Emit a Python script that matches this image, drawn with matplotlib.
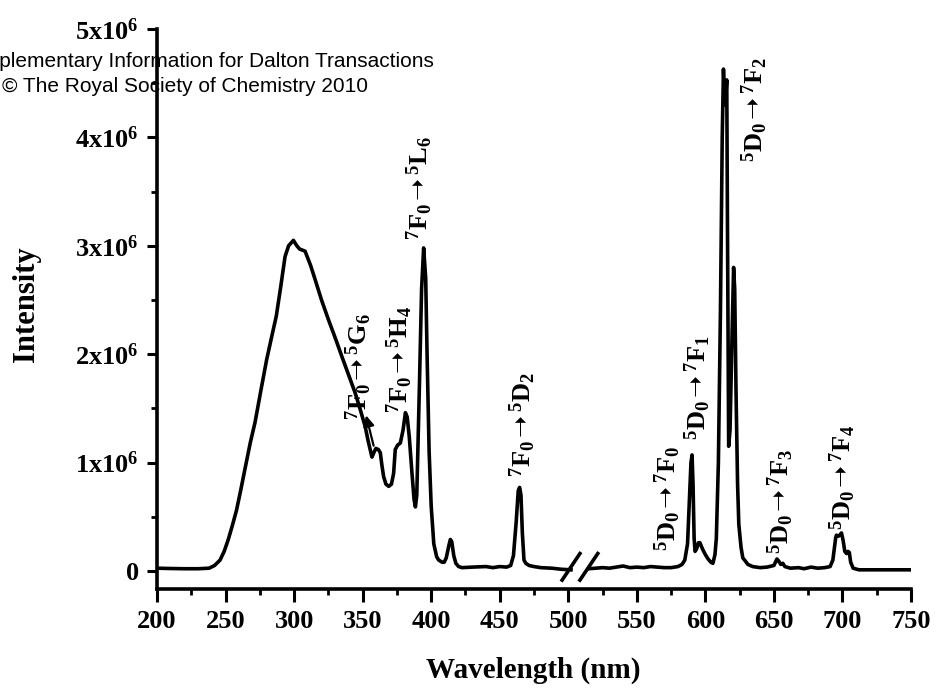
import numpy as np
import matplotlib
matplotlib.use('Agg')
import matplotlib.pyplot as plt

# excitation spectrum (left part, before the break)
ex_wl = [200, 210, 220, 230, 238, 242, 246, 249, 252, 255, 258, 261, 264, 268,
         271.5, 276, 280, 284, 287, 290, 293.4, 296, 299.5, 302, 304, 308, 312,
         315.3, 320, 325, 330, 334.8, 340, 344.6, 348, 351.9, 354, 356.8, 358.5,
         359.7, 361.5, 362.9, 364, 365.3, 367, 369, 371, 372.6, 373.8, 375.5,
         377.5, 379.5, 381.2, 382.5, 384, 386, 387.5, 388.5, 389.5, 391.4, 393,
         394.5, 396, 397, 398.5, 400, 401.9, 404, 405.5, 408, 409.5, 411, 413,
         414, 415, 416.5, 418, 420, 422.5, 430, 440, 445, 450, 455, 458, 460,
         462, 463.5, 464.5, 465.5, 466.5, 467.7, 469, 471.4, 475, 480, 488, 495, 502]
ex_int = [0.025, 0.022, 0.02, 0.02, 0.025, 0.05, 0.10, 0.18, 0.29, 0.42, 0.56,
          0.74, 0.93, 1.18, 1.37, 1.68, 1.95, 2.18, 2.35, 2.6, 2.90, 3.00, 3.05,
          3.0, 2.97, 2.95, 2.82, 2.69, 2.50, 2.32, 2.15, 1.98, 1.80, 1.64, 1.50,
          1.33, 1.20, 1.05, 1.10, 1.13, 1.12, 1.09, 0.98, 0.87, 0.80, 0.78, 0.80,
          0.90, 1.12, 1.16, 1.18, 1.30, 1.46, 1.42, 1.24, 0.90, 0.66, 0.59, 0.70,
          1.70, 2.6, 2.98, 2.70, 2.0, 1.1, 0.6, 0.25, 0.13, 0.10, 0.08, 0.08,
          0.12, 0.24, 0.29, 0.27, 0.14, 0.07, 0.04, 0.03, 0.035, 0.04, 0.03, 0.04,
          0.035, 0.05, 0.14, 0.45, 0.74, 0.77, 0.70, 0.35, 0.10, 0.07, 0.05, 0.04,
          0.03, 0.025, 0.015, 0.01]

# emission spectrum (right part, after the break)
em_wl = [515, 520, 525, 530, 535, 540, 545, 550, 555, 560, 565, 570, 575, 580,
         583, 585, 587, 588.5, 589.5, 590.3, 591, 591.8, 592.5, 593.5, 595, 596,
         598, 600, 602, 604, 605.5, 607, 608, 609.5, 611, 612.3, 613.2, 614.0,
         614.6, 615.6, 616.2, 617.0, 618, 619.5, 620.6, 621.4, 622.4,
         623.5, 624.4, 626, 627.3, 628.6, 631, 634.5, 640, 645, 650, 652.2, 653.5,
         655, 656.5, 658, 662, 668, 672, 677, 682, 687, 691, 693, 695, 695.6, 697,
         698, 699.3, 700.5, 701.7, 703, 704, 705, 706, 707.8, 712, 750]
em_int = [0.02, 0.025, 0.03, 0.025, 0.035, 0.045, 0.03, 0.035, 0.03, 0.04, 0.035,
          0.03, 0.03, 0.04, 0.06, 0.10, 0.25, 0.70, 1.0, 1.07, 0.80, 0.30, 0.18,
          0.20, 0.26, 0.26, 0.20, 0.15, 0.11, 0.08, 0.07, 0.15, 0.30, 1.0, 2.4,
          4.0, 4.63, 4.35, 4.3, 4.53, 3.0, 1.15, 1.3, 2.2, 2.80, 2.6, 1.63,
          0.8, 0.43, 0.22, 0.12, 0.10, 0.06, 0.04, 0.03, 0.035, 0.05, 0.11, 0.09,
          0.06, 0.07, 0.04, 0.025, 0.03, 0.02, 0.035, 0.025, 0.03, 0.04, 0.1, 0.3,
          0.33, 0.32, 0.33, 0.35, 0.28, 0.18, 0.16, 0.18, 0.17, 0.08, 0.025, 0.01, 0.01]

# transition labels: text, x centre (nm), bottom (x1e6)
arr = r'$\,\mathsf{➝}\,$'
lab_text = [r'$^{7}$F$_{0}$' + arr + r'$^{5}$G$_{6}$', r'$^{7}$F$_{0}$' + arr + r'$^{5}$H$_{4}$',
            r'$^{7}$F$_{0}$' + arr + r'$^{5}$L$_{6}$', r'$^{7}$F$_{0}$' + arr + r'$^{5}$D$_{2}$',
            r'$^{5}$D$_{0}$' + arr + r'$^{7}$F$_{0}$', r'$^{5}$D$_{0}$' + arr + r'$^{7}$F$_{1}$',
            r'$^{5}$D$_{0}$' + arr + r'$^{7}$F$_{2}$', r'$^{5}$D$_{0}$' + arr + r'$^{7}$F$_{3}$',
            r'$^{5}$D$_{0}$' + arr + r'$^{7}$F$_{4}$']
lab_x = [347, 377.5, 392, 466.6, 572.7, 594.6, 636.3, 655.3, 700.6]
lab_y = [1.39, 1.46, 3.05, 0.87, 0.18, 1.21, 3.77, 0.16, 0.38]

breaks = [502, 515]
yticks = [0, 1, 2, 3, 4, 5]
ytick_labels = ['0', r'$1x10^{6}$', r'$2x10^{6}$', r'$3x10^{6}$', r'$4x10^{6}$', r'$5x10^{6}$']

plt.rcParams['font.family'] = ['Liberation Serif', 'DejaVu Sans']
plt.rcParams['font.weight'] = 'bold'
plt.rcParams['mathtext.fontset'] = 'custom'
plt.rcParams['mathtext.rm'] = 'Liberation Serif:bold'
plt.rcParams['mathtext.it'] = 'Liberation Serif:bold'
plt.rcParams['mathtext.bf'] = 'Liberation Serif:bold'
plt.rcParams['mathtext.sf'] = 'DejaVu Sans'
plt.rcParams['mathtext.default'] = 'rm'

fig = plt.figure(figsize=(9.37, 6.9), dpi=100)
ax = fig.add_axes([157/937, 1-589/690, (911-157)/937, (589-29)/690])

s = 1e6
ax.plot(ex_wl, np.array(ex_int)*s, color='k', lw=2.6, solid_joinstyle='round')
ax.plot(em_wl, np.array(em_int)*s, color='k', lw=2.6, solid_joinstyle='round')

# break marks
for b in breaks:
    ax.plot([b-6.5, b+6.5], [-0.085*s, 0.16*s], color='k', lw=2.6)

for t, x, y in zip(lab_text, lab_x, lab_y):
    ax.text(x, y*s, t, rotation=90, ha='center', va='bottom', fontsize=19)

ax.annotate('', xy=(352, 1.46*s), xytext=(358.5, 1.13*s),
            arrowprops=dict(arrowstyle='-|>', color='k', lw=1.6, mutation_scale=16))

ax.set_xlim(200, 750)
ax.set_ylim(-0.167*s, 5*s)
ax.set_xticks(np.arange(200, 751, 50))
ax.set_xticks(np.arange(225, 750, 50), minor=True)
ax.set_yticks(np.array(yticks)*s)
ax.set_yticklabels(ytick_labels)
ax.set_yticks(np.arange(0.5, 5, 1)*s, minor=True)
ax.tick_params(axis='both', which='major', labelsize=19, width=2.2, direction='out')
ax.tick_params(axis='x', which='major', length=9, pad=6)
ax.tick_params(axis='y', which='major', length=7, pad=6)
ax.tick_params(axis='both', which='minor', width=2, length=4.5, direction='out')
ax.spines['top'].set_visible(False)
ax.spines['right'].set_visible(False)
ax.spines['left'].set_linewidth(2.6)
ax.spines['bottom'].set_linewidth(2.6)

fig.text(533/937, 1-670/690, 'Wavelength (nm)', ha='center', va='center', fontsize=21)
fig.text(27/937, 1-304/690, 'Intensity', ha='center', va='center', rotation=90, fontsize=22)

fig.text(434/937, 1-67/690, 'Supplementary Information for Dalton Transactions',
         ha='right', va='baseline', fontsize=15, family='Liberation Sans', weight='normal')
fig.text(368/937, 1-92/690, '© The Royal Society of Chemistry 2010',
         ha='right', va='baseline', fontsize=15, family='Liberation Sans', weight='normal')

plt.savefig('out.png', dpi=100)
